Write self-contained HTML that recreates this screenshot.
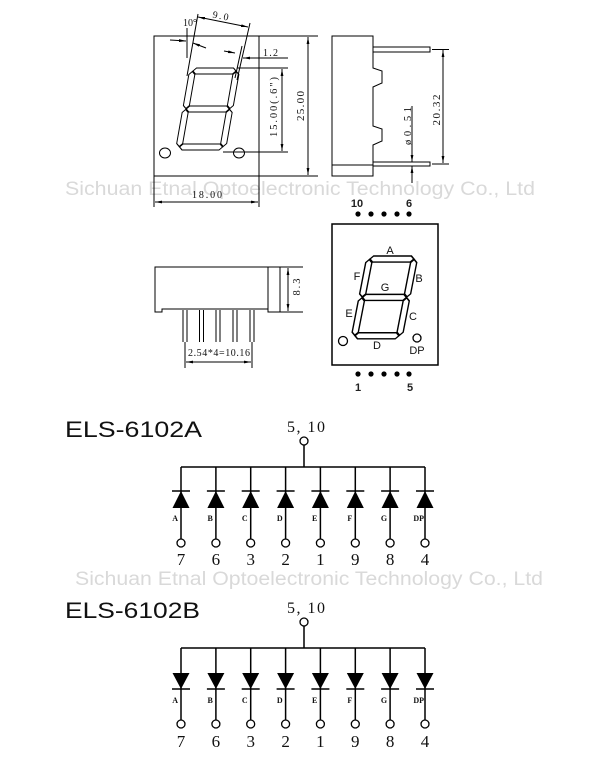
<!DOCTYPE html>
<html><head><meta charset="utf-8"><style>
html,body{margin:0;padding:0;background:#fff;}
svg{display:block;}
.s{font-family:"Liberation Serif",serif;fill:#111;}
.a{font-family:"Liberation Sans",sans-serif;fill:#111;}
</style></head><body>
<svg width="600" height="771" viewBox="0 0 600 771" xmlns="http://www.w3.org/2000/svg">
<defs>
<marker id="ar" viewBox="0 0 10 4" refX="10" refY="2" markerWidth="7" markerHeight="2.8" markerUnits="userSpaceOnUse" orient="auto-start-reverse"><path d="M0,0 L10,2 L0,4 Z" fill="#000"/></marker>
<g id="dig">
<polygon points="3.5,3 6.5,0 43.5,0 46.5,3 43.5,6 6.5,6"/>
<polygon points="3.5,41 6.5,38 43.5,38 46.5,41 43.5,44 6.5,44"/>
<polygon points="3.5,79 6.5,76 43.5,76 46.5,79 43.5,82 6.5,82"/>
<polygon points="3,3.5 6,6.5 6,37.5 3,40.5 0,37.5 0,6.5"/>
<polygon points="3,41.5 6,44.5 6,75.5 3,78.5 0,75.5 0,44.5"/>
<polygon points="47,3.5 50,6.5 50,37.5 47,40.5 44,37.5 44,6.5"/>
<polygon points="47,41.5 50,44.5 50,75.5 47,78.5 44,75.5 44,44.5"/>
</g>
</defs>
<rect width="600" height="771" fill="#fff"/>

<!-- watermarks -->
<text x="65" y="195" class="a" font-size="19" fill="#d9d9d9" style="fill:#d9d9d9" textLength="470" lengthAdjust="spacingAndGlyphs">Sichuan Etnal Optoelectronic Technology Co., Ltd</text>
<text x="75" y="585" class="a" font-size="19" style="fill:#d9d9d9" textLength="468" lengthAdjust="spacingAndGlyphs">Sichuan Etnal Optoelectronic Technology Co., Ltd</text>

<g stroke="#000" stroke-width="1" fill="none">
<!-- FRONT VIEW -->
<rect x="154" y="36" width="105" height="140"/>
<line x1="259" y1="36" x2="318" y2="36"/>
<line x1="259" y1="176" x2="318" y2="176"/>
<line x1="308" y1="37" x2="308" y2="175" marker-start="url(#ar)" marker-end="url(#ar)"/>
<line x1="237" y1="68" x2="288" y2="68"/>
<line x1="223" y1="152" x2="288" y2="152"/>
<line x1="282" y1="69" x2="282" y2="151" marker-start="url(#ar)" marker-end="url(#ar)"/>
<line x1="154" y1="176" x2="154" y2="207"/>
<line x1="259" y1="176" x2="259" y2="207"/>
<line x1="155" y1="202" x2="258" y2="202" marker-start="url(#ar)" marker-end="url(#ar)"/>
<line x1="198" y1="14" x2="187" y2="76"/>
<line x1="187" y1="28" x2="187" y2="58"/>
<line x1="170" y1="40" x2="186" y2="41" marker-end="url(#ar)"/>
<line x1="206" y1="48" x2="193" y2="43" marker-end="url(#ar)"/>
<line x1="198" y1="17" x2="248" y2="27" marker-start="url(#ar)" marker-end="url(#ar)"/>
<line x1="250" y1="23" x2="237" y2="80"/>
<line x1="242" y1="46" x2="235" y2="78"/>
<line x1="224" y1="51" x2="235" y2="53" marker-end="url(#ar)"/>
<line x1="288" y1="58" x2="243" y2="58" marker-end="url(#ar)"/>
<g transform="translate(190,68) skewX(-10)"><use href="#dig"/></g>
<ellipse cx="165" cy="153" rx="5.5" ry="5"/>
<ellipse cx="239" cy="153" rx="5.5" ry="5"/>

<!-- SIDE VIEW -->
<path d="M332,36 H373 V68 L382,71 V83 L373,87 V126 L382,129 V141 L373,145 V176 H332 Z"/>
<line x1="332" y1="165" x2="373" y2="165"/>
<path d="M373,47 H430 V52 H373"/>
<path d="M373,162 H430 V166 H373"/>
<line x1="432" y1="49.5" x2="449" y2="49.5"/>
<line x1="432" y1="164" x2="449" y2="164"/>
<line x1="443" y1="50" x2="443" y2="163" marker-start="url(#ar)" marker-end="url(#ar)"/>
<line x1="412" y1="106" x2="412" y2="162" marker-end="url(#ar)"/>
<line x1="412" y1="183" x2="412" y2="166" marker-end="url(#ar)"/>

<!-- BOTTOM VIEW -->
<path d="M303,267 H155 V312 H162 V309 H268 V312 H275"/>
<line x1="275" y1="312" x2="303" y2="312"/>
<line x1="268" y1="267" x2="268" y2="309"/>
<line x1="280" y1="267" x2="280" y2="312"/>
<line x1="288" y1="268" x2="288" y2="311" marker-start="url(#ar)" marker-end="url(#ar)"/>
<path d="M183,310 V342 M187,310 V342 M199.5,310 V342 M203.5,310 V342 M216,310 V342 M220,310 V342 M233,310 V342 M237,310 V342 M250,310 V342 M254,310 V342"/>
<line x1="185" y1="342" x2="185" y2="368"/>
<line x1="252" y1="342" x2="252" y2="368"/>
<line x1="186" y1="362" x2="251" y2="362" marker-start="url(#ar)" marker-end="url(#ar)"/>

<!-- PIN DIAGRAM -->
<rect x="332" y="224" width="106" height="141" stroke-width="1.5"/>
<g transform="translate(367,256) skewX(-11) scale(1.02,1.01)" stroke-width="1.4"><use href="#dig"/></g>
<circle cx="343" cy="341" r="4.5" stroke-width="1.3"/>
<circle cx="417" cy="338" r="4" stroke-width="1.3"/>
</g>
<g fill="#000">
<circle cx="358" cy="214" r="2.6"/><circle cx="371" cy="214" r="2.6"/><circle cx="384" cy="214" r="2.6"/><circle cx="397" cy="214" r="2.6"/><circle cx="409" cy="214" r="2.6"/>
<circle cx="358" cy="374" r="2.6"/><circle cx="371" cy="374" r="2.6"/><circle cx="384" cy="374" r="2.6"/><circle cx="397" cy="374" r="2.6"/><circle cx="409" cy="374" r="2.6"/>
</g>

<!-- dimension texts -->
<g class="s" font-size="10">
<text x="183" y="26">10°</text>
<text transform="translate(220,19) rotate(11)" text-anchor="middle" textLength="16">9.0</text>
<text x="263" y="56" textLength="15">1.2</text>
<text x="192" y="198" textLength="30">18.00</text>
<text transform="translate(304,106) rotate(-90)" text-anchor="middle" font-size="11" textLength="30">25.00</text>
<text transform="translate(277,107) rotate(-90)" text-anchor="middle" font-size="10.5" textLength="60">15.00(.6")</text>
<text transform="translate(440,110) rotate(-90)" text-anchor="middle" font-size="11" textLength="31">20.32</text>
<text transform="translate(411,126) rotate(-90)" text-anchor="middle" font-size="10.5" textLength="38">ø0.51</text>
<text transform="translate(300,287) rotate(-90)" text-anchor="middle" font-size="10.5" textLength="17">8.3</text>
<text x="188" y="356" textLength="62">2.54*4=10.16</text>
</g>

<!-- pin labels -->
<g class="a" font-size="11" text-anchor="middle" font-weight="bold" style="fill:#222">
<text x="357" y="207">10</text><text x="409" y="207">6</text>
<text x="358" y="391">1</text><text x="410" y="391">5</text>
</g>
<g class="a" font-size="11" text-anchor="middle" style="fill:#111">
<text x="390" y="254">A</text>
<text x="357" y="280">F</text>
<text x="419" y="282">B</text>
<text x="385" y="291">G</text>
<text x="349" y="317">E</text>
<text x="413" y="320">C</text>
<text x="377" y="349">D</text>
<text x="417" y="354">DP</text>
</g>

<!-- CIRCUIT A -->
<text x="65" y="437" class="a" font-size="22" textLength="137" lengthAdjust="spacingAndGlyphs">ELS-6102A</text>
<text x="287" y="432" class="s" font-size="16" textLength="38">5, 10</text>
<g stroke="#000" stroke-width="1.5" fill="none">
<line x1="304" y1="445" x2="304" y2="467"/>
<line x1="181" y1="467" x2="425" y2="467"/>
<path d="M181,467 V539 M215.9,467 V539 M250.7,467 V539 M285.6,467 V539 M320.4,467 V539 M355.3,467 V539 M390.1,467 V539 M425,467 V539"/>
<path d="M172,491 H190 M206.9,491 H224.9 M241.7,491 H259.7 M276.6,491 H294.6 M311.4,491 H329.4 M346.3,491 H364.3 M381.1,491 H399.1 M416,491 H434"/>
</g>
<g fill="#000">
<polygon points="181,491 172.5,508 189.5,508"/>
<polygon points="215.9,491 207.4,508 224.4,508"/>
<polygon points="250.7,491 242.2,508 259.2,508"/>
<polygon points="285.6,491 277.1,508 294.1,508"/>
<polygon points="320.4,491 311.9,508 328.9,508"/>
<polygon points="355.3,491 346.8,508 363.8,508"/>
<polygon points="390.1,491 381.6,508 398.6,508"/>
<polygon points="425,491 416.5,508 433.5,508"/>
</g>
<g fill="#fff" stroke="#000" stroke-width="1.3">
<circle cx="304" cy="441" r="4"/>
<circle cx="181" cy="543" r="4"/><circle cx="215.9" cy="543" r="4"/><circle cx="250.7" cy="543" r="4"/><circle cx="285.6" cy="543" r="4"/><circle cx="320.4" cy="543" r="4"/><circle cx="355.3" cy="543" r="4"/><circle cx="390.1" cy="543" r="4"/><circle cx="425" cy="543" r="4"/>
</g>
<g class="s" font-size="8" font-weight="bold" text-anchor="end">
<text x="178" y="521">A</text><text x="212.9" y="521">B</text><text x="247.7" y="521">C</text><text x="282.6" y="521">D</text><text x="317.4" y="521">E</text><text x="352.3" y="521">F</text><text x="387.1" y="521">G</text><text x="424" y="521">DP</text>
</g>
<g class="s" font-size="17" text-anchor="middle">
<text x="181" y="565">7</text><text x="215.9" y="565">6</text><text x="250.7" y="565">3</text><text x="285.6" y="565">2</text><text x="320.4" y="565">1</text><text x="355.3" y="565">9</text><text x="390.1" y="565">8</text><text x="425" y="565">4</text>
</g>

<!-- CIRCUIT B -->
<text x="65" y="618" class="a" font-size="22" textLength="135" lengthAdjust="spacingAndGlyphs">ELS-6102B</text>
<text x="287" y="613" class="s" font-size="16" textLength="38">5, 10</text>
<g stroke="#000" stroke-width="1.5" fill="none">
<line x1="304" y1="626" x2="304" y2="648"/>
<line x1="181" y1="648" x2="425" y2="648"/>
<path d="M181,648 V720 M215.9,648 V720 M250.7,648 V720 M285.6,648 V720 M320.4,648 V720 M355.3,648 V720 M390.1,648 V720 M425,648 V720"/>
<path d="M172,689 H190 M206.9,689 H224.9 M241.7,689 H259.7 M276.6,689 H294.6 M311.4,689 H329.4 M346.3,689 H364.3 M381.1,689 H399.1 M416,689 H434"/>
</g>
<g fill="#000">
<polygon points="172.5,673 189.5,673 181,689"/>
<polygon points="207.4,673 224.4,673 215.9,689"/>
<polygon points="242.2,673 259.2,673 250.7,689"/>
<polygon points="277.1,673 294.1,673 285.6,689"/>
<polygon points="311.9,673 328.9,673 320.4,689"/>
<polygon points="346.8,673 363.8,673 355.3,689"/>
<polygon points="381.6,673 398.6,673 390.1,689"/>
<polygon points="416.5,673 433.5,673 425,689"/>
</g>
<g fill="#fff" stroke="#000" stroke-width="1.3">
<circle cx="304" cy="622" r="4"/>
<circle cx="181" cy="724" r="4"/><circle cx="215.9" cy="724" r="4"/><circle cx="250.7" cy="724" r="4"/><circle cx="285.6" cy="724" r="4"/><circle cx="320.4" cy="724" r="4"/><circle cx="355.3" cy="724" r="4"/><circle cx="390.1" cy="724" r="4"/><circle cx="425" cy="724" r="4"/>
</g>
<g class="s" font-size="8" font-weight="bold" text-anchor="end">
<text x="178" y="703">A</text><text x="212.9" y="703">B</text><text x="247.7" y="703">C</text><text x="282.6" y="703">D</text><text x="317.4" y="703">E</text><text x="352.3" y="703">F</text><text x="387.1" y="703">G</text><text x="424" y="703">DP</text>
</g>
<g class="s" font-size="17" text-anchor="middle">
<text x="181" y="747">7</text><text x="215.9" y="747">6</text><text x="250.7" y="747">3</text><text x="285.6" y="747">2</text><text x="320.4" y="747">1</text><text x="355.3" y="747">9</text><text x="390.1" y="747">8</text><text x="425" y="747">4</text>
</g>
</svg>
</body></html>
